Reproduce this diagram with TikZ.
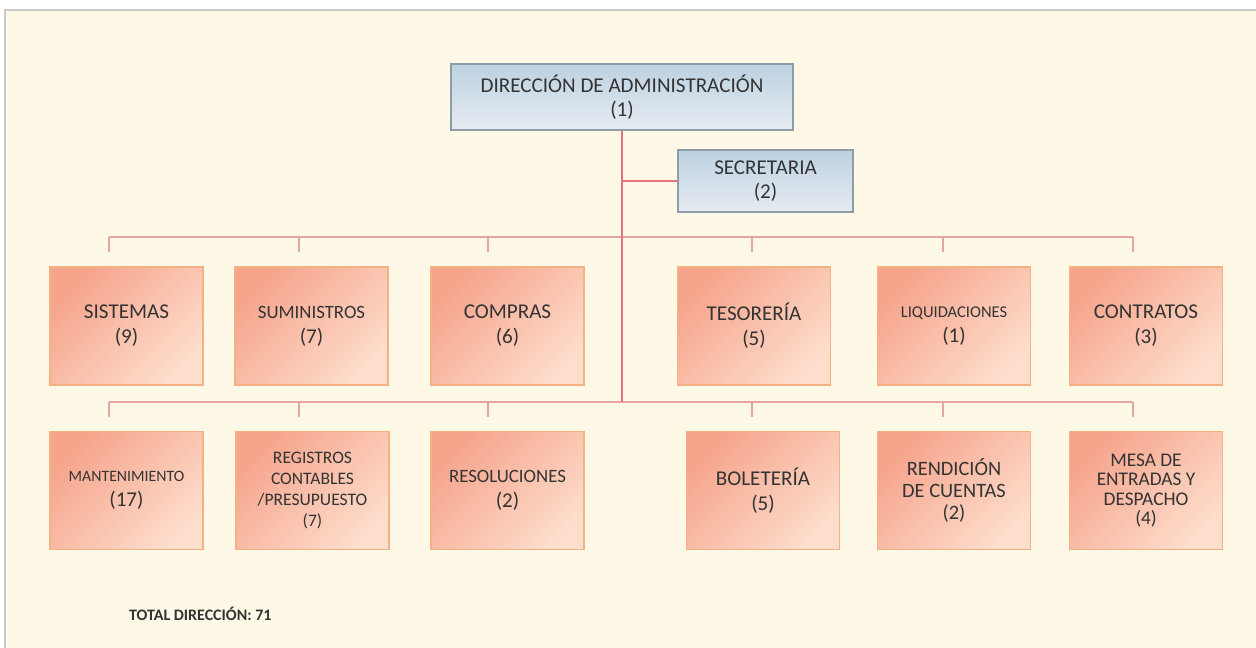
\documentclass[tikz,border=0pt]{standalone}
\usepackage{fontspec}
\setmainfont{Carlito}
\usetikzlibrary{positioning}

\definecolor{paper}{HTML}{FEF8E6}
\definecolor{frame}{HTML}{C9C9C9}
\definecolor{ink}{HTML}{333333}
\definecolor{salmonDark}{HTML}{F6A48C}
\definecolor{salmonLight}{HTML}{FDDDCB}
\definecolor{salmonEdge}{HTML}{F3B184}
\definecolor{blueDark}{HTML}{BDD1E1}
\definecolor{blueLight}{HTML}{E6ECF1}
\definecolor{blueEdge}{HTML}{8F9DAB}
\definecolor{trunkRed}{HTML}{E8727A}
\definecolor{busRed}{HTML}{E6A4A2}

\tikzset{
  unit/.style={draw=salmonEdge, line width=0.9pt, top color=salmonDark, bottom color=salmonLight,
    shading angle=45, minimum width=3.06cm, minimum height=2.36cm, align=center, text=ink,
    inner sep=1pt, font=\fontsize{12}{14.2}\selectfont},
  head/.style={draw=blueEdge, line width=0.9pt, top color=blueDark, bottom color=blueLight,
    minimum width=6.84cm, minimum height=1.32cm, align=center, text=ink,
    font=\fontsize{12}{13.6}\selectfont},
  aide/.style={head, minimum width=3.5cm, minimum height=1.24cm},
  trunk/.style={draw=trunkRed, line width=1.1pt},
  bus/.style={draw=busRed, line width=0.8pt}
}

\begin{document}
\begin{tikzpicture}[x=0.02cm, y=-0.02cm]
	% Page as large as the reference
	\useasboundingbox (0,0) rectangle (1256,648);
	\fill[paper] (5,10) rectangle (1256,648);
	\draw[frame, line width=1.2pt] (5,648) -- (5,10) -- (1256,10);
	% Head and secretary
	\node[head] (dir) at (622,97) {DIRECCIÓN DE ADMINISTRACIÓN\\(1)};
	\node[aide] (sec) at (765.5,181) {SECRETARIA\\(2)};
	% First row
	\node[unit] (sis) at (126.5,326) {SISTEMAS\\(9)};
	\node[unit, font=\fontsize{10.7}{14.2}\selectfont] (sum) at (311.5,326) {SUMINISTROS\\{\fontsize{12}{14.2}\selectfont(7)}};
	\node[unit] (com) at (507.5,326) {COMPRAS\\(6)};
	\node[unit] (tes) at (754,326) {TESORERÍA\\(5)};
	\node[unit, font=\fontsize{9.4}{14.2}\selectfont] (liq) at (954,326) {LIQUIDACIONES\\{\fontsize{12}{14.2}\selectfont(1)}};
	\node[unit] (con) at (1146,326) {CONTRATOS\\(3)};
	% Second row
	\node[unit, font=\fontsize{9}{14.2}\selectfont] (man) at (126.5,490.5) {MANTENIMIENTO\\{\fontsize{12}{14.2}\selectfont(17)}};
	\node[unit, font=\fontsize{10}{12}\selectfont] (reg) at (312.5,490.5) {REGISTROS\\CONTABLES\\/PRESUPUESTO\\(7)};
	\node[unit, font=\fontsize{10.7}{14.2}\selectfont] (res) at (507.5,490.5) {RESOLUCIONES\\{\fontsize{12}{14.2}\selectfont(2)}};
	\node[unit] (bol) at (763,490.5) {BOLETERÍA\\(5)};
	\node[unit, font=\fontsize{11.6}{12.4}\selectfont] (ren) at (954,490.5) {RENDICIÓN\\DE CUENTAS\\(2)};
	\node[unit, font=\fontsize{11}{11}\selectfont] (mes) at (1146,490.5) {MESA DE\\ENTRADAS Y\\DESPACHO\\(4)};
	% Total
	\node[anchor=west, text=ink, font=\fontsize{9.1}{11}\selectfont\bfseries] (total) at (123,614) {TOTAL DIRECCIÓN: 71};
	% Bus coordinates
	\coordinate (bus1) at (622,237);
	\coordinate (bus2) at (622,402);
	\foreach \x/\n in {109/sis,299/sum,488/com,752/tes,943/liq,1133/con}
		\coordinate (d\n) at (\x,252);
	\foreach \x/\n in {109/man,299/reg,488/res,752/bol,943/ren,1133/mes}
		\coordinate (d\n) at (\x,417);
	% Draw buses
	\draw[bus] (dsis |- bus1) -- (dcon |- bus1);
	\draw[bus] (dman |- bus2) -- (dmes |- bus2);
	\foreach \n in {sis,sum,com,tes,liq,con}
		\draw[bus] (d\n |- bus1) -- (d\n);
	\foreach \n in {man,reg,res,bol,ren,mes}
		\draw[bus] (d\n |- bus2) -- (d\n);
	% Draw trunk
	\draw[trunk] (dir.south) -- (bus2);
	\draw[trunk] (sec.west) -- (sec.west -| dir.south);
\end{tikzpicture}
\end{document}
